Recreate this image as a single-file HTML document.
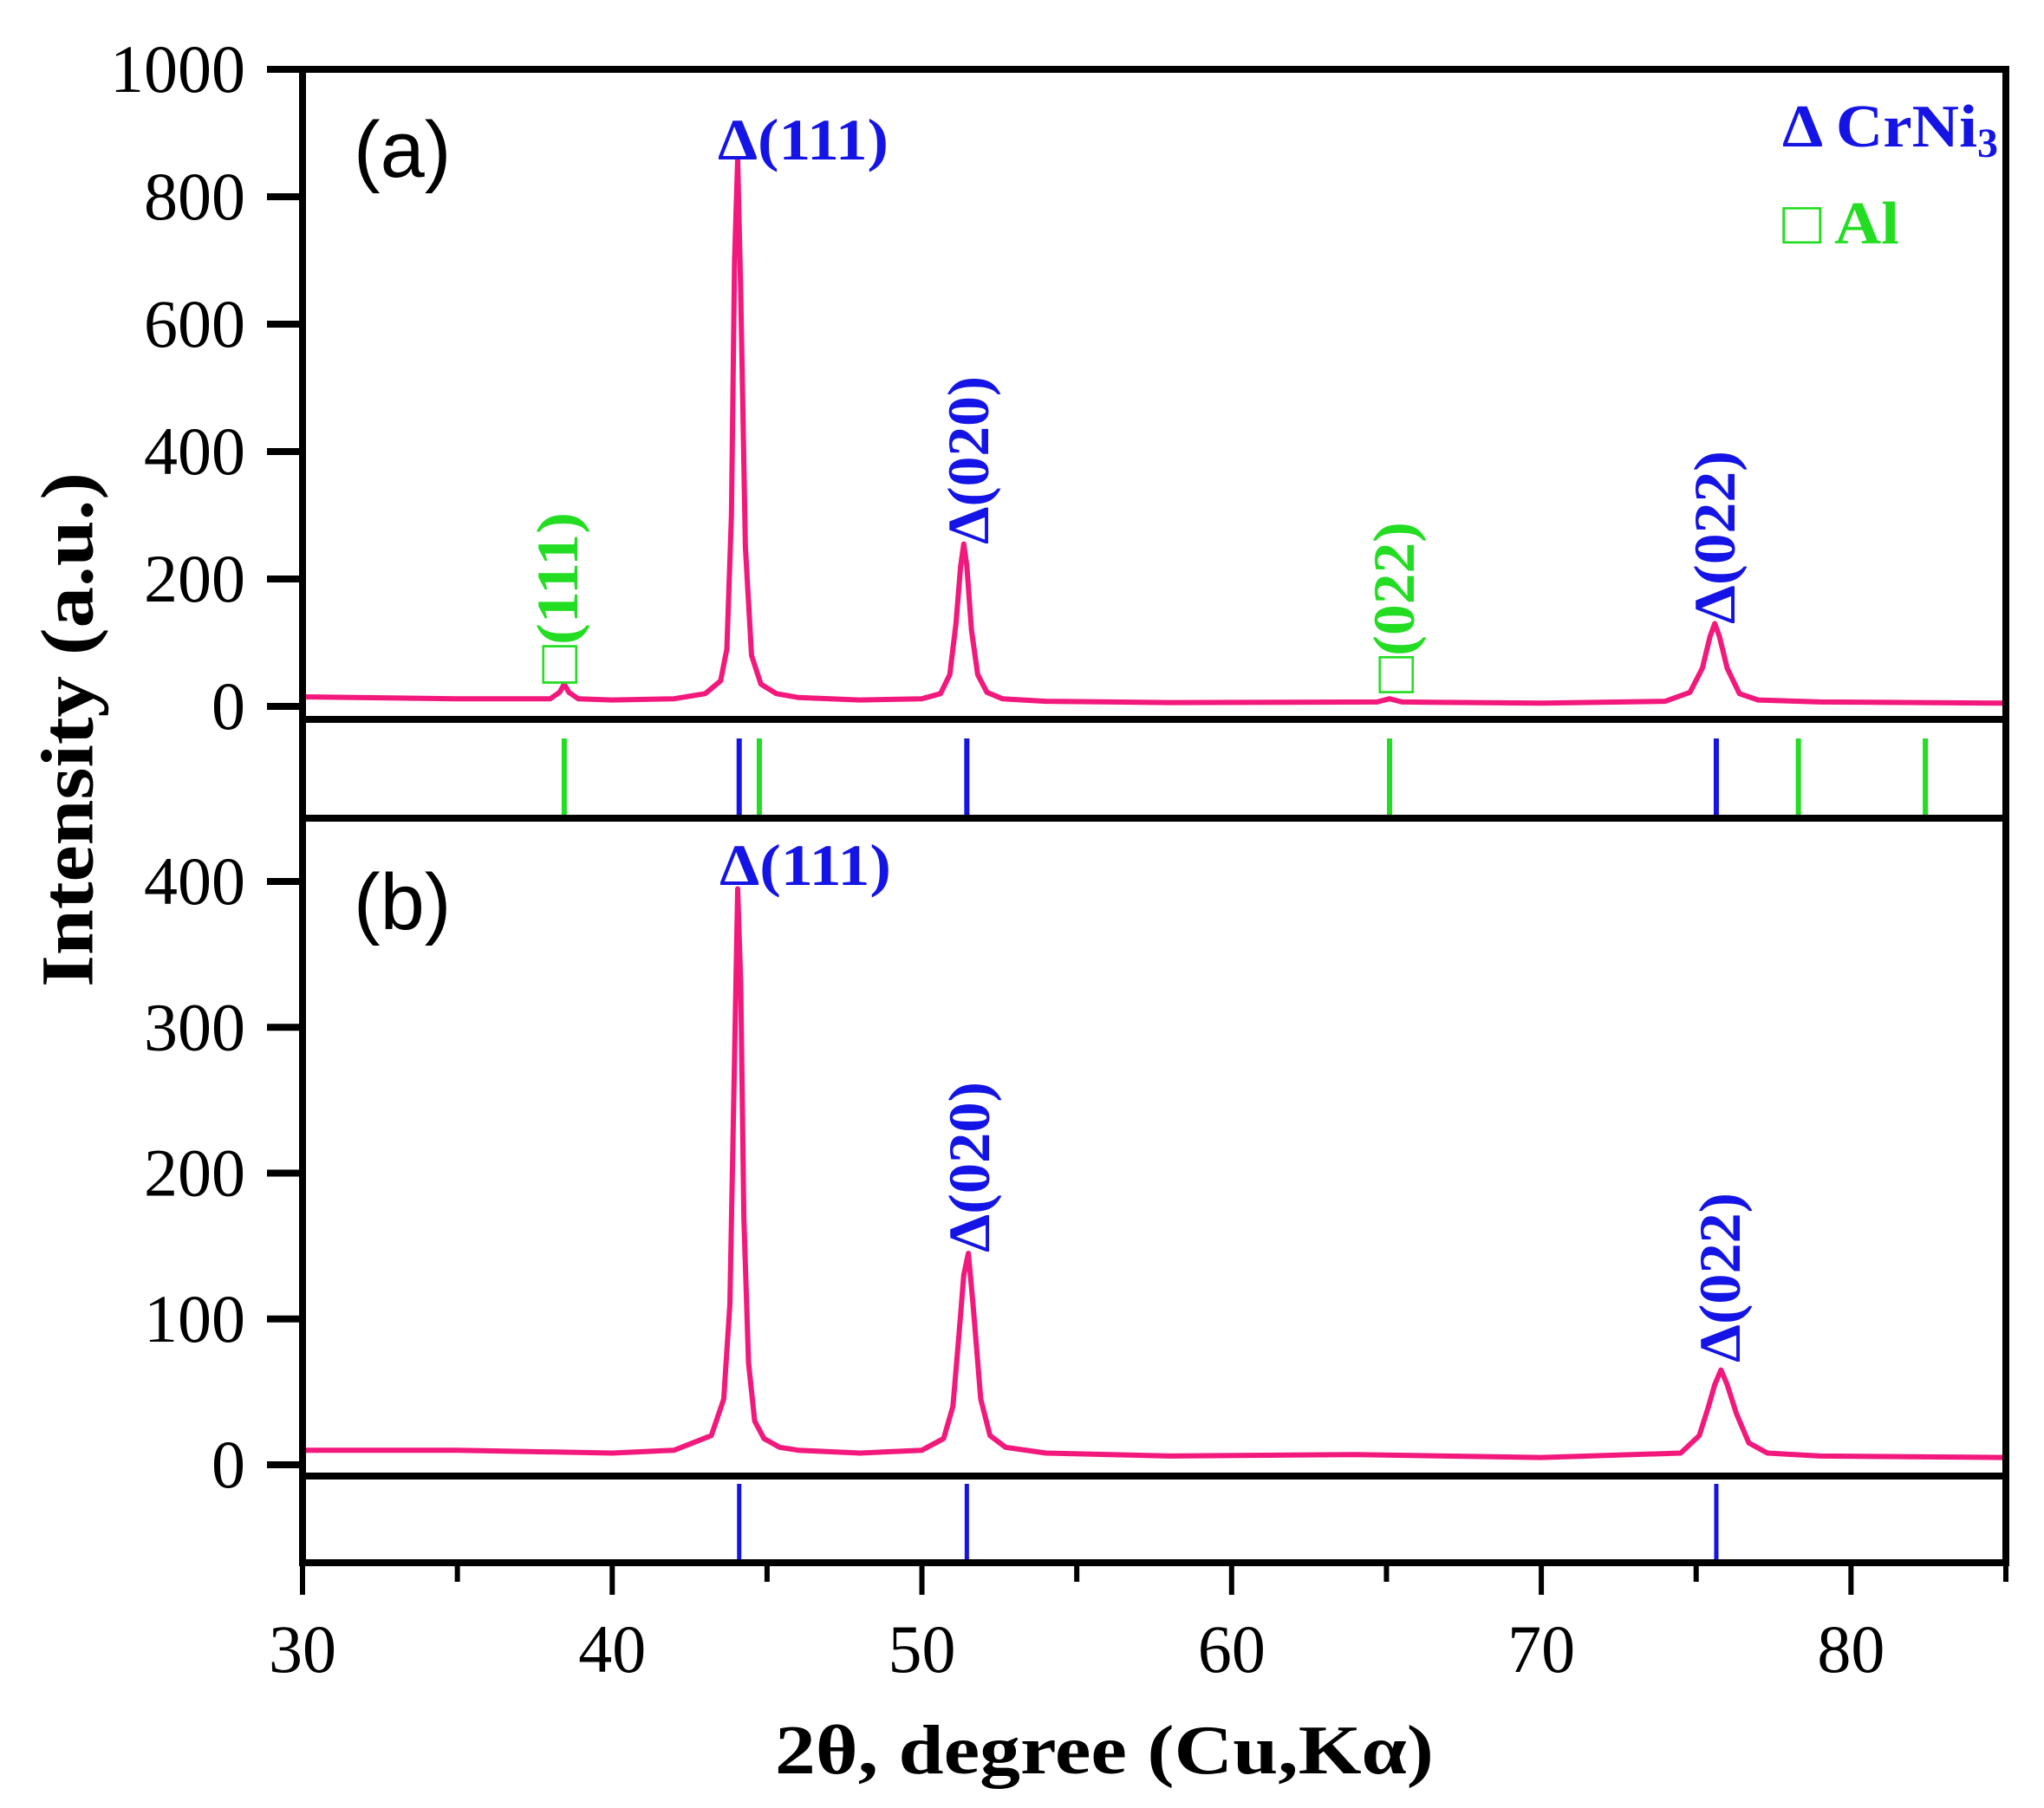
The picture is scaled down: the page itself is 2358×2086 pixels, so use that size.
<!DOCTYPE html>
<html><head><meta charset="utf-8"><style>
html,body{margin:0;padding:0;background:#fff;}
svg{display:block;}
.t{font-family:"Liberation Serif",serif;}
</style></head><body>
<svg id="c" width="2358" height="2086" viewBox="0 0 2358 2086" xmlns="http://www.w3.org/2000/svg">
<rect width="2358" height="2086" fill="#fff"/>
<g id="marks"></g>
<g id="axes"></g>
<text class="t" x="87" y="842" transform="rotate(-90 87 842)" text-anchor="middle" dominant-baseline="middle" font-size="86" font-weight="bold" textLength="594" lengthAdjust="spacingAndGlyphs">Intensity (a.u.)</text>
<text class="t" x="1274" y="2046" text-anchor="middle" font-size="80" font-weight="bold" textLength="760" lengthAdjust="spacingAndGlyphs">2θ, degree (Cu,Kα)</text>
<text x="408" y="204" font-family="Liberation Sans, sans-serif" font-size="92">(a)</text>
<text x="408" y="1072" font-family="Liberation Sans, sans-serif" font-size="92">(b)</text>
<text class="t" x="828" y="184" font-size="68" font-weight="bold" fill="#1414e6" textLength="197" lengthAdjust="spacingAndGlyphs">Δ(111)</text>
<text class="t" x="830" y="1021" font-size="68" font-weight="bold" fill="#1414e6" textLength="198" lengthAdjust="spacingAndGlyphs">Δ(111)</text>
<text class="t" x="1140" y="628" transform="rotate(-90 1140 628)" font-size="68" font-weight="bold" fill="#1414e6" textLength="194" lengthAdjust="spacingAndGlyphs">Δ(020)</text>
<text class="t" x="1141" y="1445" transform="rotate(-90 1141 1445)" font-size="68" font-weight="bold" fill="#1414e6" textLength="197" lengthAdjust="spacingAndGlyphs">Δ(020)</text>
<text class="t" x="2001" y="720" transform="rotate(-90 2001 720)" font-size="68" font-weight="bold" fill="#1414e6" textLength="200" lengthAdjust="spacingAndGlyphs">Δ(022)</text>
<text class="t" x="2007" y="1572" transform="rotate(-90 2007 1572)" font-size="68" font-weight="bold" fill="#1414e6" textLength="196" lengthAdjust="spacingAndGlyphs">Δ(022)</text>
<text class="t" x="666" y="789" transform="rotate(-90 666 789)" font-size="68" font-weight="bold" fill="#22dd22" textLength="198" lengthAdjust="spacingAndGlyphs">□(111)</text>
<text class="t" x="1631" y="800" transform="rotate(-90 1631 800)" font-size="68" font-weight="bold" fill="#22dd22" textLength="198" lengthAdjust="spacingAndGlyphs">□(022)</text>
<text class="t" x="2056" y="169" font-size="70" font-weight="bold" fill="#1414e6"><tspan textLength="225" lengthAdjust="spacingAndGlyphs">Δ CrNi</tspan><tspan font-size="48" dy="12">3</tspan></text>
<text class="t" x="2056" y="281" font-size="70" font-weight="bold" fill="#22dd22" textLength="135" lengthAdjust="spacingAndGlyphs">□ Al</text>
</svg>
<script>
// ---- data ----
const xTicks = [30,40,50,60,70,80];
const xMinorTicks = [35,45,55,65,75,85];
const yTicksA = [0,200,400,600,800,1000];
const yTicksB = [0,100,200,300,400];
const xA = [30,35,38.0,38.3,38.45,38.6,38.9,40,42,43.0,43.5,43.7,43.85,43.95,44.05,44.15,44.3,44.5,44.8,45.3,46,48,50,50.6,50.9,51.1,51.25,51.35,51.45,51.6,51.8,52.1,52.6,54,58,64.7,65.1,65.5,70,74,74.8,75.2,75.45,75.6,75.75,76.0,76.4,77,79,85];
const yA = [15,12,12,22,35,22,12,10,12,20,40,90,300,700,860,650,250,80,35,20,14,10,12,20,50,130,220,255,220,120,50,22,12,8,6,7,12,7,5,8,22,60,110,130,110,60,20,10,7,5];
const xB = [30,35,40,42,43.2,43.6,43.8,43.95,44.05,44.15,44.25,44.4,44.6,44.9,45.4,46,48,50,50.7,51.0,51.2,51.35,51.5,51.65,51.9,52.2,52.7,54,58,64,70,74.5,75.1,75.4,75.6,75.8,76.0,76.3,76.7,77.3,79,85];
const yB = [10,10,8,10,20,45,110,280,395,330,170,70,30,18,12,10,8,10,18,40,90,130,145,110,45,20,12,8,6,7,5,8,20,40,55,65,55,35,15,8,6,5];
const ticksCrNi3 = [44.1,51.45,75.65];
const ticksAl = [38.45,44.75,65.1,78.3,82.4];

// ---- scales ----
const L=349,R=2314;
const sx = v => L + (v-30)*(R-L)/55;
const syA = v => 815 - v*0.735;
const syB = v => 1690 - v*(1690-1017)/400;
const NS='http://www.w3.org/2000/svg';
const marks=document.getElementById('marks'), axes=document.getElementById('axes');
function mk(tag, parent, attrs){const e=document.createElementNS(NS,tag);for(const k in attrs)e.setAttribute(k,attrs[k]);parent.appendChild(e);return e;}

// curves
let d='';xA.forEach((x,i)=>{d+=(i?'L':'M')+sx(x).toFixed(1)+' '+syA(yA[i]).toFixed(1);});
let pa=mk('path',marks,{d:d,fill:'none',stroke:'#f2187c','stroke-width':6,'stroke-linejoin':'round'});


d='';xB.forEach((x,i)=>{d+=(i?'L':'M')+sx(x).toFixed(1)+' '+syB(yB[i]).toFixed(1);});
let pb=mk('path',marks,{d:d,fill:'none',stroke:'#f2187c','stroke-width':6,'stroke-linejoin':'round'});



// reference sticks
ticksAl.forEach(v=>{let l=mk('line',marks,{x1:sx(v),x2:sx(v),y1:852,y2:941,stroke:'#22dd22','stroke-width':6});

});
ticksCrNi3.forEach(v=>{let l=mk('line',marks,{x1:sx(v),x2:sx(v),y1:852,y2:941,stroke:'#1414e6','stroke-width':6});


let m=mk('line',marks,{x1:sx(v),x2:sx(v),y1:1712,y2:1800,stroke:'#1414e6','stroke-width':5});

});

// frames
const K='#000';
let f=mk('path',axes,{d:`M${L} 80H${R}V1803H${L}Z M${L} 830H${R} M${L} 944H${R} M${L} 1703H${R}`,fill:'none',stroke:K,'stroke-width':8});



// y ticks
yTicksA.forEach(v=>{const y=syA(v);
let t=mk('line',axes,{x1:308,x2:L,y1:y,y2:y,stroke:K,'stroke-width':8});


let tx=mk('text',axes,{x:283,y:y+26,'text-anchor':'end','font-size':78,'font-family':'Liberation Serif, serif'});tx.textContent=v;

});
yTicksB.forEach(v=>{const y=syB(v);
let t=mk('line',axes,{x1:308,x2:L,y1:y,y2:y,stroke:K,'stroke-width':8});


let tx=mk('text',axes,{x:283,y:y+26,'text-anchor':'end','font-size':78,'font-family':'Liberation Serif, serif'});tx.textContent=v;

});

// x ticks
xTicks.forEach(v=>{const x=sx(v);
let t=mk('line',axes,{x1:x,x2:x,y1:1803,y2:1840,stroke:K,'stroke-width':6});


let tx=mk('text',axes,{x:x,y:1929,'text-anchor':'middle','font-size':78,'font-family':'Liberation Serif, serif'});tx.textContent=v;

});
xMinorTicks.forEach(v=>{const x=sx(v);
let t=mk('line',axes,{x1:x,x2:x,y1:1803,y2:1825,stroke:K,'stroke-width':6});

});
</script>
</body></html>
